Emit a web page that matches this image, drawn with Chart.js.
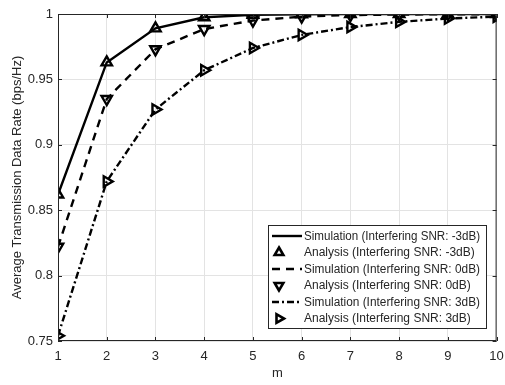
<!DOCTYPE html>
<html>
<head>
<meta charset="utf-8">
<script src="https://cdn.jsdelivr.net/npm/chart.js@4"></script>
<style>
  html, body { margin: 0; padding: 0; background: #fff; }
  #wrap { width: 505px; height: 385px; }
</style>
</head>
<body>
<div id="wrap"><canvas id="chart"></canvas></div>
<script>
// values
const mValues = [1, 2, 3, 4, 5, 6, 7, 8, 9, 10];
const rateSnrMinus3 = [0.862, 0.963, 0.989, 0.9975, 0.9993, 0.9998, 0.9999, 1.0, 1.0, 1.0];
const rateSnr0 = [0.822, 0.935, 0.973, 0.9885, 0.995, 0.998, 0.9992, 0.9996, 0.9998, 0.9999];
const rateSnr3 = [0.754, 0.872, 0.927, 0.957, 0.974, 0.984, 0.990, 0.994, 0.9965, 0.998];
const yTicks = [0.75, 0.8, 0.85, 0.9, 0.95, 1];

const series = [
    { name: 'Interfering SNR: -3dB', values: rateSnrMinus3, dash: [], marker: 'triangle', rot: 0 },
    { name: 'Interfering SNR: 0dB', values: rateSnr0, dash: [8, 6], marker: 'triangle', rot: 180 },
    { name: 'Interfering SNR: 3dB', values: rateSnr3, dash: [7, 3, 2, 3], marker: 'triangle', rot: 90 }
];

function pts(values) {
    return mValues.map((m, i) => ({ x: m, y: values[i] }));
}

const datasets = [];
series.forEach(s => {
    datasets.push({
        label: 'Simulation (' + s.name + ')',
        data: pts(s.values),
        borderColor: '#000',
        borderWidth: 2.4,
        borderDash: s.dash,
        pointRadius: 0,
        fill: false,
        tension: 0
    });
    datasets.push({
        label: 'Analysis (' + s.name + ')',
        data: pts(s.values),
        showLine: false,
        borderColor: '#000',
        backgroundColor: 'rgba(0,0,0,0)',
        borderWidth: 2.4,
        pointStyle: s.marker,
        rotation: s.rot,
        pointRadius: 6
    });
});

const LEFT = 58, BOTTOM = 341;

// box, inner ticks and legend like the original figure
const matlabLook = {
    id: 'matlabLook',
    afterDraw(chart) {
        const ctx = chart.ctx;
        const a = chart.chartArea;
        const xs = chart.scales.x, ys = chart.scales.y;
        ctx.save();
        ctx.strokeStyle = '#262626';
        ctx.lineWidth = 1;
        ctx.strokeRect(a.left + 0.5, a.top + 0.5, a.right - a.left - 1, a.bottom - a.top - 1);
        ctx.beginPath();
        mValues.forEach(m => {
            const px = Math.round(xs.getPixelForValue(m)) + 0.5;
            ctx.moveTo(px, a.bottom); ctx.lineTo(px, a.bottom - 4);
            ctx.moveTo(px, a.top); ctx.lineTo(px, a.top + 4);
        });
        yTicks.forEach(v => {
            const py = Math.round(ys.getPixelForValue(v)) + 0.5;
            ctx.moveTo(a.left, py); ctx.lineTo(a.left + 4, py);
            ctx.moveTo(a.right, py); ctx.lineTo(a.right - 4, py);
        });
        ctx.stroke();

        // legend
        const bx = 268, by = 225, bw = 218, bh = 103;
        ctx.fillStyle = '#fff';
        ctx.fillRect(bx, by, bw, bh);
        ctx.strokeStyle = '#262626';
        ctx.strokeRect(bx + 0.5, by + 0.5, bw, bh);
        ctx.font = '12px "Liberation Sans", Arial, sans-serif';
        ctx.textBaseline = 'middle';
        chart.data.datasets.forEach((ds, i) => {
            const cy = by + 11 + i * 16.5;
            ctx.strokeStyle = '#000';
            ctx.lineWidth = 2.6;
            if (ds.showLine === false) {
                const r = 5;
                ctx.save();
                ctx.translate(bx + 11, cy);
                ctx.rotate((ds.rotation || 0) * Math.PI / 180);
                ctx.beginPath();
                ctx.moveTo(0, -r);
                ctx.lineTo(r * 0.866, r * 0.5);
                ctx.lineTo(-r * 0.866, r * 0.5);
                ctx.closePath();
                ctx.stroke();
                ctx.restore();
            } else {
                ctx.lineWidth = 2.4;
                ctx.setLineDash(ds.borderDash || []);
                ctx.beginPath();
                ctx.moveTo(bx + 4, cy);
                ctx.lineTo(bx + 34, cy);
                ctx.stroke();
                ctx.setLineDash([]);
            }
            ctx.fillStyle = '#262626';
            ctx.fillText(ds.label, bx + 36, cy + 0.5, 176);
        });
        ctx.restore();
    }
};

Chart.defaults.font.family = '"Liberation Sans", Arial, sans-serif';
Chart.defaults.color = '#262626';

new Chart(document.getElementById('chart').getContext('2d'), {
    type: 'line',
    data: { datasets: datasets },
    plugins: [matlabLook],
    options: {
        responsive: true,
        maintainAspectRatio: false,
        animation: false,
        layout: { padding: { left: 6, right: 8, top: 14, bottom: 0 } },
        plugins: {
            legend: { display: false },
            tooltip: { enabled: false }
        },
        scales: {
            x: {
                type: 'linear',
                min: 1,
                max: 10,
                ticks: { stepSize: 1, font: { size: 13 }, padding: 8, maxRotation: 0 },
                grid: { color: '#e3e3e3', drawTicks: false },
                border: { display: false },
                title: { display: true, text: 'm', font: { size: 13 }, padding: { top: 1 } },
                afterFit: s => { s.height = 385 - BOTTOM; s.paddingRight = 0; s.paddingLeft = 0; }
            },
            y: {
                min: 0.75,
                max: 1,
                afterBuildTicks: s => { s.ticks = yTicks.map(v => ({ value: v })); },
                ticks: { font: { size: 13 }, padding: 5, callback: v => String(+v.toFixed(2)) },
                grid: { color: '#e3e3e3', drawTicks: false },
                border: { display: false },
                title: { display: true, text: 'Average Transmission Data Rate (bps/Hz)', font: { size: 13 }, padding: { bottom: 2 } },
                afterFit: s => { s.width = LEFT - 6; s.paddingTop = 0; s.paddingBottom = 0; }
            }
        }
    }
});
</script>
</body>
</html>
